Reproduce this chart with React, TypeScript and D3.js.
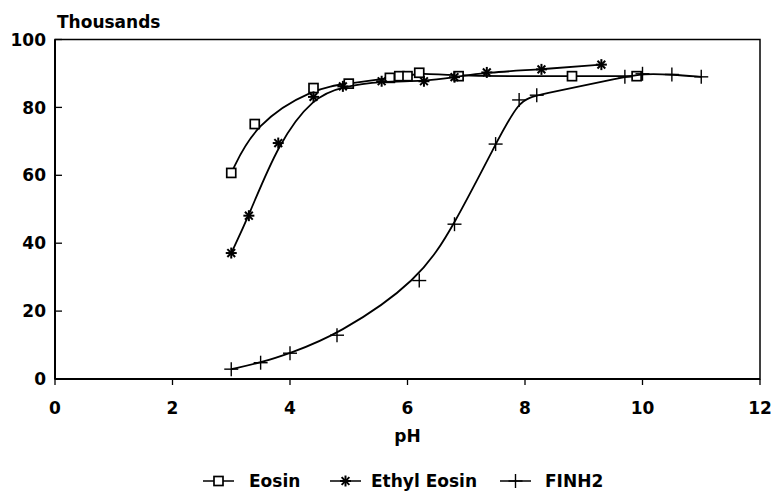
import React from "react";
import * as d3 from "d3";

const eosinX = [3.0, 3.4, 4.4, 5.0, 5.7, 5.86, 6.0, 6.2, 6.87, 8.8, 9.9];
const eosinY = [60.7, 75.1, 85.7, 87.0, 88.7, 89.2, 89.2, 90.2, 89.2, 89.2, 89.2];

const ethylX = [3.0, 3.3, 3.8, 4.4, 4.9, 5.56, 6.28, 6.8, 7.35, 8.28, 9.3];
const ethylY = [37.1, 48.1, 69.5, 83.1, 86.2, 87.7, 87.7, 88.9, 90.3, 91.2, 92.6];

const finh2X = [3.0, 3.5, 4.0, 4.8, 6.2, 6.8, 7.5, 7.9, 8.2, 9.7, 10.0, 10.5, 11.0];
const finh2Y = [2.9, 4.8, 7.6, 12.9, 29.0, 45.6, 69.2, 82.2, 83.6, 89.0, 89.9, 89.7, 89.0];

const xTicks = [0, 2, 4, 6, 8, 10, 12];
const yTicks = [0, 20, 40, 60, 80, 100];
const seriesNames = ["Eosin", "Ethyl Eosin", "FINH2"];

const W = 772;
const H = 495;
const left = 55;
const right = 760;
const top = 39.5;
const bottom = 379;
const FONT = "'DejaVu Sans', sans-serif";

const x = d3.scaleLinear().domain([0, 12]).range([left, right]);
const y = d3.scaleLinear().domain([0, 100]).range([bottom, top]);

type Pt = [number, number];
const zip = (xs: number[], ys: number[]): Pt[] => xs.map((v, i) => [v, ys[i]]);

const line = d3
  .line<Pt>()
  .x((d) => x(d[0]))
  .y((d) => y(d[1]))
  .curve(d3.curveBasis);

function Square({ cx, cy }: { cx: number; cy: number }) {
  return (
    <rect x={cx - 4.5} y={cy - 4.5} width={9} height={9} fill="white" stroke="black" strokeWidth={1.7} />
  );
}

function Star({ cx, cy }: { cx: number; cy: number }) {
  const r = 5.5;
  const arms = [0, 45, 90, 135].map((a) => {
    const rad = (a * Math.PI) / 180;
    return (
      <line
        key={a}
        x1={cx - r * Math.cos(rad)}
        y1={cy - r * Math.sin(rad)}
        x2={cx + r * Math.cos(rad)}
        y2={cy + r * Math.sin(rad)}
        stroke="black"
        strokeWidth={2}
      />
    );
  });
  return <g>{arms}</g>;
}

function Plus({ cx, cy }: { cx: number; cy: number }) {
  const r = 7;
  return (
    <g stroke="black" strokeWidth={1.4}>
      <line x1={cx - r} y1={cy} x2={cx + r} y2={cy} />
      <line x1={cx} y1={cy - r} x2={cx} y2={cy + r} />
    </g>
  );
}

const markers = [Square, Star, Plus];

export default function App() {
  const series = [zip(eosinX, eosinY), zip(ethylX, ethylY), zip(finh2X, finh2Y)];
  const legendLine = [203, 330, 500];
  const legendText = [249, 371, 545];
  return (
    <svg
      width={W}
      height={H}
      style={{ position: "absolute", left: 0, top: 0, background: "white" }}
      fontFamily={FONT}
    >
      <rect x={0} y={0} width={W} height={H} fill="white" />
      {/* frame */}
      <rect x={left} y={top} width={right - left} height={bottom - top} fill="none" stroke="black" strokeWidth={1.5} />
      <line x1={left} y1={bottom} x2={right} y2={bottom} stroke="black" strokeWidth={2.2} />
      <line x1={left} y1={top} x2={left} y2={bottom} stroke="black" strokeWidth={2} />
      {/* y ticks */}
      {yTicks.map((t) => (
        <g key={"y" + t}>
          <line x1={left} x2={left + 7} y1={y(t)} y2={y(t)} stroke="black" strokeWidth={1.3} />
          <text x={46} y={y(t)} dy="0.36em" textAnchor="end" fontSize={17} fontWeight="bold">
            {t}
          </text>
        </g>
      ))}
      {/* x ticks */}
      {xTicks.map((t) => (
        <g key={"x" + t}>
          <line x1={x(t)} x2={x(t)} y1={bottom} y2={bottom + 6} stroke="black" strokeWidth={1.3} />
          <text x={x(t)} y={414} textAnchor="middle" fontSize={17} fontWeight="bold">
            {t}
          </text>
        </g>
      ))}
      <text x={57} y={28} fontSize={17} fontWeight="bold">
        Thousands
      </text>
      <text x={x(6)} y={442} textAnchor="middle" fontSize={17} fontWeight="bold">
        pH
      </text>
      {/* series */}
      {series.map((pts, i) => {
        const M = markers[i];
        return (
          <g key={"s" + i}>
            <path d={line(pts) || ""} fill="none" stroke="black" strokeWidth={1.8} />
            {pts.map((p, j) => (
              <M key={j} cx={x(p[0])} cy={y(p[1])} />
            ))}
          </g>
        );
      })}
      {/* legend */}
      {seriesNames.map((name, i) => {
        const M = markers[i];
        const lx = legendLine[i];
        return (
          <g key={"l" + i}>
            <line x1={lx} x2={lx + 31} y1={481} y2={481} stroke="black" strokeWidth={1.5} />
            <M cx={lx + 15.5} cy={481} />
            <text x={legendText[i]} y={481} dy="0.36em" fontSize={17} fontWeight="bold">
              {name}
            </text>
          </g>
        );
      })}
    </svg>
  );
}
